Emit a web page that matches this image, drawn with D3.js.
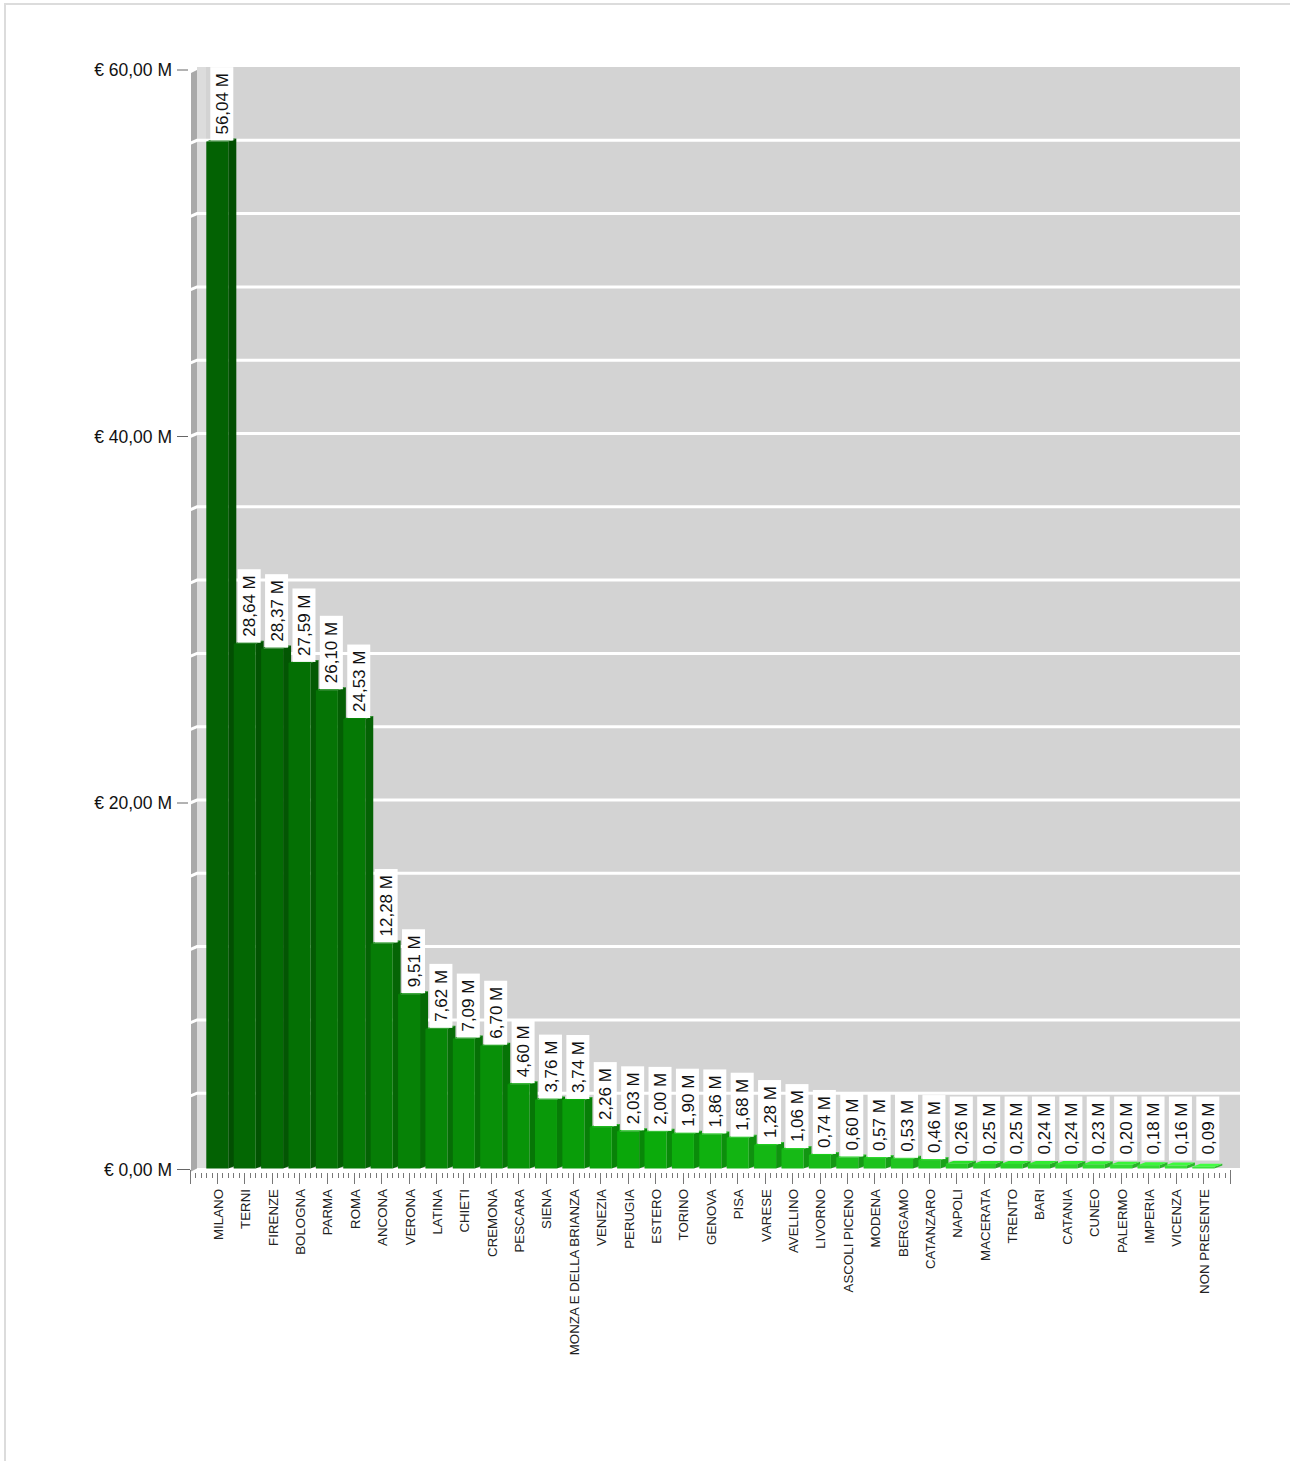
<!DOCTYPE html>
<html>
<head>
<meta charset="utf-8">
<script src="https://cdnjs.cloudflare.com/ajax/libs/d3/7.8.5/d3.min.js"></script>
<style>
  html, body { margin: 0; padding: 0; background: #fff; }
  svg { display: block; font-family: Arial, "Liberation Sans", sans-serif; }
</style>
</head>
<body>
<svg id="chart" width="1290" height="1461"></svg>
<script>
// ---- data ----
const categories = ["MILANO","TERNI","FIRENZE","BOLOGNA","PARMA","ROMA","ANCONA","VERONA","LATINA","CHIETI","CREMONA","PESCARA","SIENA","MONZA E DELLA BRIANZA","VENEZIA","PERUGIA","ESTERO","TORINO","GENOVA","PISA","VARESE","AVELLINO","LIVORNO","ASCOLI PICENO","MODENA","BERGAMO","CATANZARO","NAPOLI","MACERATA","TRENTO","BARI","CATANIA","CUNEO","PALERMO","IMPERIA","VICENZA","NON PRESENTE"];
const values = [56.04,28.64,28.37,27.59,26.10,24.53,12.28,9.51,7.62,7.09,6.70,4.60,3.76,3.74,2.26,2.03,2.00,1.90,1.86,1.68,1.28,1.06,0.74,0.60,0.57,0.53,0.46,0.26,0.25,0.25,0.24,0.24,0.23,0.20,0.18,0.16,0.09];
const yTickValues = [0, 20, 40, 60];
const gridValues = [4,8,12,16,20,24,28,32,36,40,44,48,52,56];

// ---- layout ----
const svg = d3.select("#chart");
const fmt = v => d3.format(".2f")(v).replace(".", ",");

// outer frame
svg.append("rect").attr("x", 5).attr("y", 4).attr("width", 1300).attr("height", 1470)
  .attr("fill", "none").attr("stroke", "#dcdcdc").attr("stroke-width", 2);

const y = d3.scaleLinear().domain([0, 60]).range([1168.5, 69]);
const step = (1203 - 217) / (categories.length - 1);
const x = d3.scaleBand().domain(categories)
  .range([217 - step / 2, 1203 + step / 2]).padding(0);
const depthX = 8, depthY = 3;

// plot background (back wall)
svg.append("rect").attr("x", 197).attr("y", 67).attr("width", 1043).attr("height", 1101)
  .attr("fill", "#d3d3d3");
// left wall strip
svg.append("rect").attr("x", 197).attr("y", 67).attr("width", 9).attr("height", 1101)
  .attr("fill", "#dcdcdc");
svg.append("polygon")
  .attr("points", `191,${y(60)+4} 197,${y(60)+1} 197,${y(0)} 191,${y(0)+3}`)
  .attr("fill", "#a9a9a9");

// gridlines
svg.append("g").selectAll("path").data(gridValues).join("path")
  .attr("d", d => `M190,${y(d)+1} L197,${y(d)-2} L1240,${y(d)-2}`)
  .attr("fill", "none").attr("stroke", "#ffffff").attr("stroke-width", 3);

// colours
const n = categories.length;
const colorScale = d3.scaleLinear().domain([0, (n - 1) * 0.45, n - 1])
  .range(["#036203", "#0bac0b", "#3ae43a"]).interpolate(d3.interpolateRgb);

// bars (3D)
const bars = svg.append("g").selectAll("g").data(categories).join("g");
bars.each(function(c, i) {
  const g = d3.select(this);
  const v = values[i];
  const xl = x(c) + 3, w = 22, xr = xl + w;
  const yt = y(v), yb = y(0);
  const col = d3.color(colorScale(i));
  // side face
  g.append("polygon")
    .attr("points", `${xr},${yt} ${xr+depthX},${yt-depthY} ${xr+depthX},${yb-depthY} ${xr},${yb}`)
    .attr("fill", col.darker(0.6));
  // top face
  g.append("polygon")
    .attr("points", `${xl},${yt} ${xl+depthX},${yt-depthY} ${xr+depthX},${yt-depthY} ${xr},${yt}`)
    .attr("fill", col.brighter(0.3));
  // front face
  g.append("rect").attr("x", xl).attr("y", yt).attr("width", w).attr("height", yb - yt)
    .attr("fill", col);
});

// data labels
const labels = svg.append("g").selectAll("g").data(categories).join("g")
  .attr("transform", (c, i) => {
    const cx = x(c) + 3 + 11 + 4.5;
    const yb = Math.min(y(values[i]) - 1, y(0) - 8);
    return `translate(${cx},${yb}) rotate(-90)`;
  });
labels.append("text")
  .attr("x", 6).attr("dy", "0.36em")
  .attr("font-size", 17).attr("fill", "#111")
  .text((c, i) => fmt(values[i]) + " M");
labels.each(function() {
  const g = d3.select(this);
  const len = g.select("text").node().getComputedTextLength();
  g.insert("rect", "text").attr("x", 0).attr("y", -11.5).attr("width", len + 12).attr("height", 23)
    .attr("fill", "#ffffff");
});

// y axis labels + ticks
const yAxis = svg.append("g");
yAxis.selectAll("line").data(yTickValues).join("line")
  .attr("x1", 177).attr("x2", 188).attr("y1", d => y(d) + 1).attr("y2", d => y(d) + 1)
  .attr("stroke", "#666").attr("stroke-width", 1);
yAxis.selectAll("text").data(yTickValues).join("text")
  .attr("x", 172).attr("y", d => y(d) + 1).attr("dy", "0.35em")
  .attr("text-anchor", "end").attr("font-size", 17.5).attr("fill", "#111")
  .text(d => "€ " + fmt(d) + " M");

// x axis: index-based linear scale for major and minor ticks
const xi = d3.scaleLinear().domain([0, n - 1])
  .range([x(categories[0]) + step / 2, x(categories[n - 1]) + step / 2]);
const minorVals = d3.range(-1, n + 0.001, 0.2);
const xAxisG = svg.append("g");
xAxisG.selectAll("line").data(minorVals).join("line")
  .attr("x1", d => Math.round(xi(d)) + 0.5).attr("x2", d => Math.round(xi(d)) + 0.5)
  .attr("y1", d => (Math.abs(d - Math.round(d)) < 1e-6 && (d === -1 || d > n - 0.5)) ? 1170 : 1173)
  .attr("y2", d => Math.abs(d - Math.round(d)) < 1e-6 ? 1184 : 1178)
  .attr("stroke", "#777").attr("stroke-width", 1);
xAxisG.append("line").attr("x1", 188).attr("x2", xi(-1) + 0.5).attr("y1", y(0) + 1).attr("y2", y(0) + 1)
  .attr("stroke", "#666");

xAxisG.selectAll("text").data(categories).join("text")
  .attr("transform", (c, i) => `translate(${xi(i) + 1},1189) rotate(-90)`)
  .attr("dy", "0.36em").attr("text-anchor", "end")
  .attr("font-size", 13.3).attr("fill", "#222")
  .text(c => c);
</script>
</body>
</html>
